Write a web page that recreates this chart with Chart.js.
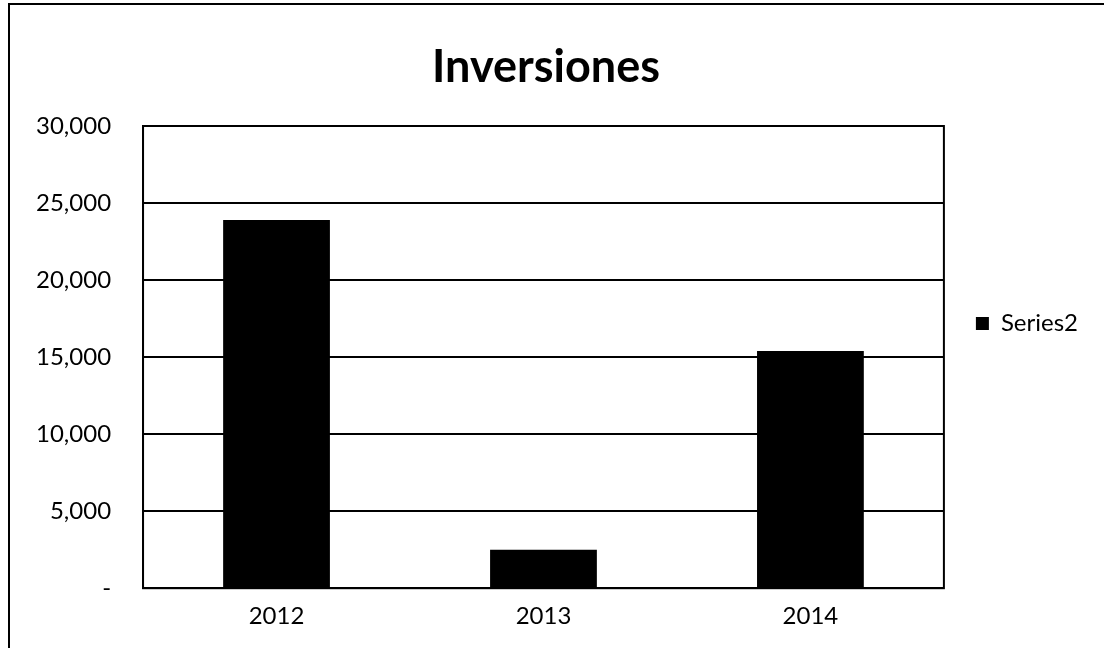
<!DOCTYPE html>
<html>
<head>
<meta charset="utf-8">
<script src="https://cdn.jsdelivr.net/npm/chart.js@4"></script>
<style>
  html, body { margin: 0; padding: 0; background: #fff; }
  #wrap { position: relative; width: 1104px; height: 648px; }
  #frame { position: absolute; left: 8px; top: 3px; width: 1100px; height: 650px; border-left: 2px solid #000; border-top: 2px solid #000; box-sizing: border-box; }
</style>
</head>
<body>
<div id="wrap">
  <div id="frame"></div>
  <canvas id="inversionesChart" width="1104" height="648"></canvas>
</div>
<script>
const years = ['2012', '2013', '2014'];
const inversiones = [23900, 2500, 15400];
const yTicks = [0, 5000, 10000, 15000, 20000, 25000, 30000];

const plotFrame = {
  id: 'plotFrame',
  afterDraw(chart) {
    const { ctx, chartArea: a } = chart;
    ctx.save();
    ctx.strokeStyle = '#000';
    ctx.lineWidth = 2;
    ctx.strokeRect(a.left, a.top, a.right - a.left, a.bottom - a.top);
    ctx.restore();
  }
};

document.addEventListener('DOMContentLoaded', () => {
  const ctx = document.getElementById('inversionesChart');
  new Chart(ctx, {
    type: 'bar',
    data: {
      labels: years,
      datasets: [{
        label: 'Series2',
        data: inversiones,
        backgroundColor: '#000',
        borderWidth: 0,
        barPercentage: 0.4,
        categoryPercentage: 1
      }]
    },
    options: {
      responsive: false,
      animation: false,
      layout: { padding: { left: 4, right: 16, top: 10, bottom: 11 } },
      plugins: {
        title: {
          display: true,
          text: 'Inversiones',
          color: '#000',
          font: { family: 'Lato', size: 45, weight: 'bold' },
          padding: { top: 30, bottom: 32 }
        },
        legend: {
          position: 'right',
          labels: {
            color: '#000',
            boxWidth: 13,
            boxHeight: 13,
            padding: 32,
            font: { family: 'Lato', size: 24 }
          }
        },
        tooltip: { enabled: false }
      },
      scales: {
        x: {
          grid: { display: false },
          border: { color: '#000', width: 2 },
          ticks: { color: '#000', font: { family: 'Lato', size: 24 }, padding: 6 }
        },
        y: {
          min: 0,
          max: 30000,
          afterBuildTicks: axis => { axis.ticks = yTicks.map(v => ({ value: v })); },
          grid: { color: '#000', lineWidth: 2, drawTicks: false },
          border: { color: '#000', width: 2 },
          ticks: {
            color: '#000',
            padding: 32,
            font: { family: 'Lato', size: 24 },
            callback: v => v === 0 ? '-' : v.toLocaleString('en-US')
          }
        }
      }
    },
    plugins: [plotFrame]
  });
});
</script>
</body>
</html>
